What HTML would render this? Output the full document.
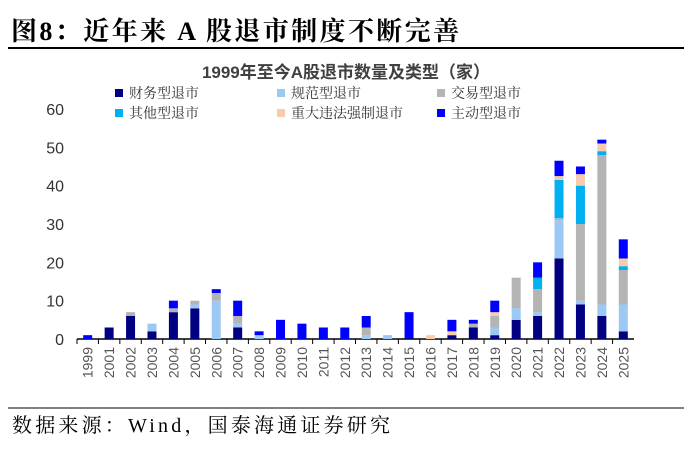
<!DOCTYPE html>
<html><head><meta charset="utf-8"><style>
body{margin:0;background:#fff;width:692px;height:448px;overflow:hidden;font-family:"Liberation Serif","Noto Serif CJK SC",serif}
</style></head><body>
<svg width="692" height="448" xmlns="http://www.w3.org/2000/svg">
<text x="11" y="40" font-size="26" letter-spacing="2.4" font-weight="bold" fill="#000" font-family="Liberation Serif, Noto Serif CJK SC, serif">图8：近年来 A 股退市制度不断完善</text>
<line x1="8" y1="48" x2="684" y2="48" stroke="#000" stroke-width="2"/>
<text x="346" y="78" font-size="17" font-weight="bold" fill="#404040" text-anchor="middle" font-family="Liberation Sans, Noto Sans CJK SC, sans-serif">1999年至今A股退市数量及类型（家）</text>
<g id="legend" font-size="14" fill="#333" font-family="Liberation Serif, Noto Serif CJK SC, serif"></g>
<g id="axes"></g>
<g id="bars"></g>
<line x1="8" y1="408" x2="684" y2="408" stroke="#000" stroke-width="1"/>
<text x="12" y="432" font-size="20" letter-spacing="3.2" fill="#000">数据来源：Wind，国泰海通证券研究</text>
</svg>
<script>
const years=['1999','2001','2002','2003','2004','2005','2006','2007','2008','2009','2010','2011','2012','2013','2014','2015','2016','2017','2018','2019','2020','2021','2022','2023','2024','2025'];
const finance=[0,3,6,2,7,8,0,3,0,0,0,0,0,0,0,0.5,0,1,3,1,5,6,21,9,6,2];
const norm=[0,0,0,2,0,1,10,1,1,0,0,0,0,1,1,0,0,0,0,2,3,1,10,1,3,7];
const trade=[0,0,1,0,1,1,2,2,0,0,0,0,0,2,0,0,0,0,1,3,8,6,0.5,20,39,9];
const other=[0,0,0,0,0,0,0,0,0,0,0,0,0,0,0,0,0,0,0,0,0,3,10,10,1,1];
const illegal=[0,0,0,0,0,0,0,0,0,0,0,0,0,0,0,0,1,1,0,1,0,0,1,3,2,2];
const active=[1,0,0,0,2,0,1,4,1,5,4,3,3,3,0,6.5,0,3,1,3,0,4,4,2,1,5];
const yTicks=[0,10,20,30,40,50,60];
const seriesNames=['财务型退市','规范型退市','交易型退市','其他型退市','重大违法强制退市','主动型退市'];
const seriesData=[finance,norm,trade,other,illegal,active];
const colors=['#000080','#9cc8f4','#b4b4b4','#00b0f0','#f8cbad','#0000ff'];
const NS='http://www.w3.org/2000/svg';
const x0=77,x1=634,yBase=339,yTop=109,yMax=60;
const step=(x1-x0)/years.length;
const X=i=>x0+step*(i+0.5);
const Y=v=>yBase-(v/yMax)*(yBase-yTop);
function mk(t,a,p){const e=document.createElementNS(NS,t);for(const k in a)e.setAttribute(k,a[k]);p.appendChild(e);return e;}
const axes=document.getElementById('axes'),bars=document.getElementById('bars'),leg=document.getElementById('legend');
yTicks.forEach(t=>{
 const tx=mk('text',{x:64,y:Y(t)+6,'text-anchor':'end','font-size':16,fill:'#333','font-family':'Liberation Sans, sans-serif'},axes);
 tx.textContent=t;
 
 
});
const ax=mk('line',{x1:x0,y1:yBase,x2:x1,y2:yBase,stroke:'#000','stroke-width':1.5},axes);


years.forEach((y,i)=>{
 const tk=mk('line',{x1:x0+step*i,y1:yBase,x2:x0+step*i,y2:yBase+5,stroke:'#000'},axes);
 
 
 const tx=mk('text',{x:0,y:0,'font-size':14,fill:'#555','text-anchor':'end','font-family':'Liberation Sans, sans-serif',transform:`translate(${X(i)+5},${yBase+8}) rotate(-90)`},axes);
 tx.textContent=y;
 
 
 let acc=0;
 seriesData.forEach((s,k)=>{
  const v=s[i]; if(!v) return;
  const r=mk('rect',{x:X(i)-4.5,y:Y(acc+v),width:9,height:Y(acc)-Y(acc+v),fill:colors[k]},bars);
  
  
  acc+=v;
 });
});
const lx=[115,277,437],ly=[94,114];
seriesNames.forEach((n,k)=>{
 const cx=lx[k%3],cy=ly[Math.floor(k/3)];
 const g=mk('g',{},leg);
 
 
 mk('rect',{x:cx,y:cy-5,width:8,height:8,fill:colors[k]},g);
 const t=mk('text',{x:cx+14,y:cy+4},g);t.textContent=n;
});
</script>
</body></html>
